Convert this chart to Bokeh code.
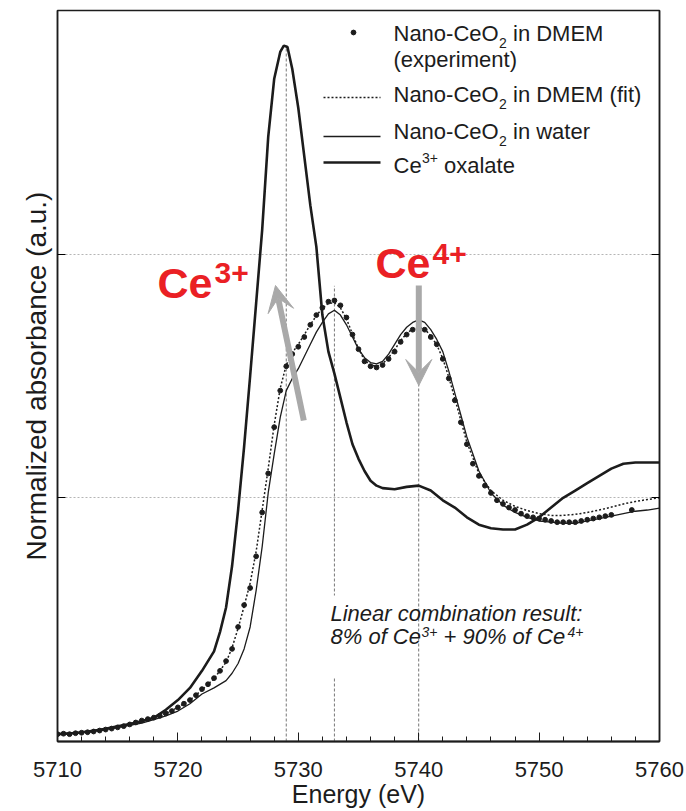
from bokeh.plotting import figure
from bokeh.models import (FixedTicker, LinearAxis, Label, Arrow, VeeHead,
                          BoxAnnotation, Range1d)
from bokeh.embed import file_html
from bokeh.resources import INLINE

# ---- data -----------------------------------------------------------------
# Ce(III) oxalate reference spectrum
ox_energy = [5710, 5711, 5712, 5713, 5714, 5715, 5716, 5717, 5718, 5719,
             5720, 5721, 5722, 5723, 5723.5, 5724, 5724.5, 5725, 5725.5, 5726,
             5726.5, 5727, 5727.5, 5728, 5728.5, 5728.8, 5729.1, 5729.5, 5730, 5730.5,
             5731, 5731.5, 5732, 5732.5, 5733, 5733.5, 5734, 5734.5, 5735, 5735.5,
             5736, 5736.5, 5737, 5738, 5739, 5740, 5741, 5742, 5743, 5744,
             5745, 5746, 5747, 5748, 5749, 5750, 5751, 5752, 5753, 5754,
             5755, 5756, 5757, 5758, 5759, 5760]
ox_abs = [0.030, 0.033, 0.038, 0.044, 0.052, 0.062, 0.072, 0.083, 0.097, 0.130,
          0.170, 0.220, 0.290, 0.370, 0.450, 0.550, 0.720, 0.950, 1.210, 1.500,
          1.800, 2.100, 2.480, 2.720, 2.830, 2.856, 2.850, 2.760, 2.600, 2.400,
          2.200, 2.030, 1.750, 1.600, 1.510, 1.410, 1.310, 1.220, 1.160, 1.110,
          1.070, 1.050, 1.040, 1.035, 1.045, 1.050, 1.030, 0.990, 0.960, 0.920,
          0.890, 0.875, 0.870, 0.870, 0.890, 0.920, 0.960, 1.000, 1.030, 1.060,
          1.090, 1.120, 1.140, 1.145, 1.145, 1.145]

# energy grid shared by the water spectrum and the linear-combination fit
line_energy = [5710, 5711, 5712, 5713, 5714, 5715, 5716, 5717, 5718, 5719,
               5720, 5721, 5722, 5723, 5724,
               5724.5, 5725, 5725.5, 5726, 5726.5, 5727, 5727.5, 5728, 5728.5, 5729,
               5729.5, 5730, 5730.5, 5731, 5731.5, 5732, 5732.5, 5733, 5733.5, 5734,
               5734.5, 5735, 5735.5, 5736, 5736.5, 5737, 5737.5, 5738, 5738.5, 5739,
               5739.5, 5740, 5740.5, 5741, 5741.5, 5742, 5742.5, 5743, 5743.5, 5744,
               5745, 5746, 5747, 5748, 5749, 5750, 5751, 5752, 5753, 5754,
               5755, 5756, 5757, 5758, 5759, 5760]
# nano-CeO2 in water
water_abs = [0.033, 0.035, 0.037, 0.042, 0.050, 0.058, 0.066, 0.075, 0.090, 0.105,
             0.125, 0.155, 0.195, 0.220, 0.250,
             0.280, 0.320, 0.380, 0.470, 0.620, 0.800, 1.020, 1.180, 1.330, 1.440,
             1.490, 1.530, 1.580, 1.630, 1.680, 1.720, 1.755, 1.770, 1.750, 1.710,
             1.660, 1.610, 1.575, 1.555, 1.550, 1.560, 1.590, 1.630, 1.670, 1.700,
             1.720, 1.730, 1.720, 1.690, 1.650, 1.600, 1.520, 1.430, 1.340, 1.250,
             1.110, 1.020, 0.970, 0.940, 0.920, 0.905, 0.900, 0.895, 0.895, 0.905,
             0.915, 0.925, 0.935, 0.945, 0.950, 0.958]
# nano-CeO2 in DMEM, linear-combination fit
fit_abs = [0.030, 0.032, 0.036, 0.041, 0.049, 0.058, 0.070, 0.085, 0.098, 0.115,
           0.140, 0.170, 0.212, 0.258, 0.325,
           0.385, 0.465, 0.555, 0.650, 0.780, 0.950, 1.120, 1.300, 1.450, 1.545,
           1.595, 1.630, 1.670, 1.710, 1.748, 1.778, 1.798, 1.800, 1.780, 1.735,
           1.672, 1.612, 1.565, 1.545, 1.540, 1.550, 1.575, 1.608, 1.645, 1.675,
           1.693, 1.700, 1.692, 1.665, 1.628, 1.572, 1.495, 1.408, 1.318, 1.228,
           1.100, 1.030, 0.990, 0.965, 0.948, 0.935, 0.928, 0.928, 0.932, 0.940,
           0.950, 0.962, 0.975, 0.985, 0.993, 1.000]

# nano-CeO2 in DMEM, measured points
exp_energy = [5710, 5710.5, 5711, 5711.5, 5712, 5712.5, 5713, 5713.5, 5714, 5714.5,
              5715, 5715.5, 5716, 5716.5, 5717, 5717.5, 5718, 5718.5, 5719, 5719.5,
              5720, 5720.5, 5721, 5721.5, 5722, 5722.5, 5723, 5723.5, 5724, 5724.5,
              5725, 5725.5, 5726, 5726.5, 5727, 5727.5, 5728, 5728.5, 5729, 5729.5,
              5730, 5730.5, 5731, 5731.5, 5732, 5732.5, 5733, 5733.5, 5734, 5734.5,
              5735, 5735.5, 5736, 5736.5, 5737, 5737.5, 5738, 5738.5, 5739, 5739.5,
              5740, 5740.5, 5741, 5741.5, 5742, 5742.5, 5743, 5743.5, 5744, 5744.5,
              5745, 5745.5, 5746, 5746.5, 5747, 5747.5, 5748, 5748.5, 5749, 5749.5,
              5750, 5750.5, 5751, 5751.5, 5752, 5752.5, 5753, 5753.5, 5754, 5754.5,
              5755, 5755.5, 5756, 5757.7]
exp_abs = [0.030, 0.032, 0.030, 0.034, 0.036, 0.038, 0.041, 0.045, 0.049, 0.053,
           0.058, 0.063, 0.070, 0.078, 0.086, 0.092, 0.098, 0.105, 0.115, 0.125,
           0.140, 0.155, 0.170, 0.190, 0.215, 0.235, 0.260, 0.290, 0.330, 0.380,
           0.470, 0.560, 0.630, 0.760, 0.940, 1.100, 1.290, 1.440, 1.540, 1.590,
           1.620, 1.660, 1.710, 1.750, 1.780, 1.805, 1.810, 1.790, 1.740, 1.670,
           1.610, 1.560, 1.540, 1.535, 1.545, 1.570, 1.600, 1.640, 1.670, 1.690,
           1.695, 1.690, 1.660, 1.630, 1.570, 1.490, 1.400, 1.310, 1.220, 1.140,
           1.090, 1.050, 1.020, 0.990, 0.975, 0.960, 0.950, 0.935, 0.925, 0.920,
           0.915, 0.910, 0.905, 0.900, 0.900, 0.900, 0.900, 0.905, 0.910, 0.915,
           0.920, 0.925, 0.930, 0.950]

# marker energies (Ce3+ white line, Ce4+ doublet) and the heights they reach
peak_energy = [5729, 5733, 5740]
peak_top = [2.856, 1.87, 1.73]

x_ticks = [5710, 5720, 5730, 5740, 5750, 5760]
x_minor = [5712, 5714, 5716, 5718, 5722, 5724, 5726, 5728, 5732, 5734, 5736, 5738,
           5742, 5744, 5746, 5748, 5752, 5754, 5756, 5758]
y_ticks = [1, 2]

# ---- styling / layout -----------------------------------------------------
INK = "#1c1c1c"
GREY = "#a9a9a9"
RED = "#ea2024"
FONT = "Liberation Sans"

X0, X1, Y0, Y1 = 5710, 5760, 0, 3
FL, FR, FT, FB = 57, 659, 10, 741   # plot frame edges in pixels


def at(px, py):
    """Pixel position on the page -> data coordinates."""
    x = X0 + (px - FL) * (X1 - X0) / (FR - FL)
    y = Y0 + (FB - py) * (Y1 - Y0) / (FB - FT)
    return x, y


p = figure(width=686, height=811, output_backend="svg", toolbar_location=None,
           x_range=Range1d(X0, X1), y_range=Range1d(Y0, Y1),
           min_border_left=FL, min_border_right=686 - FR,
           min_border_top=FT, min_border_bottom=811 - FB)
p.background_fill_color = "white"
p.border_fill_color = "white"
p.outline_line_color = INK
p.outline_line_width = 1.5

# x axis
xa = p.xaxis[0]
xa.ticker = FixedTicker(ticks=x_ticks, minor_ticks=x_minor)
xa.major_label_text_font = FONT
xa.major_label_text_font_size = "22px"
xa.major_label_text_color = INK
xa.major_label_standoff = 20
xa.major_tick_in = 9
xa.major_tick_out = 0
xa.minor_tick_in = 5
xa.minor_tick_out = 0
xa.major_tick_line_color = INK
xa.minor_tick_line_color = INK
xa.axis_line_color = INK
xa.axis_line_width = 2
xa.axis_label = "Energy (eV)"
xa.axis_label_text_font = FONT
xa.axis_label_text_font_size = "25px"
xa.axis_label_text_font_style = "normal"
xa.axis_label_text_color = INK
xa.axis_label_standoff = 0

# y axis: ticks only, no numbers
ya = p.yaxis[0]
ya.ticker = FixedTicker(ticks=y_ticks, minor_ticks=[])
ya.major_label_text_color = None
ya.major_label_text_font_size = "1px"
ya.major_label_standoff = 0
ya.major_tick_in = 8
ya.major_tick_out = 0
ya.minor_tick_line_color = None
ya.axis_line_color = INK
ya.axis_line_width = 1.5
ya.axis_label = "Normalized absorbance (a.u.)"
ya.axis_label_text_font = FONT
ya.axis_label_text_font_size = "28px"
ya.axis_label_text_font_style = "normal"
ya.axis_label_text_color = INK
ya.axis_label_standoff = 6

right = LinearAxis(ticker=FixedTicker(ticks=y_ticks, minor_ticks=[]),
                   major_label_text_color=None, major_label_text_font_size="1px",
                   major_tick_in=8, major_tick_out=0, minor_tick_line_color=None,
                   axis_line_color=INK, axis_line_width=1.5)
p.add_layout(right, "right")

p.xgrid.visible = False
p.ygrid.ticker = FixedTicker(ticks=y_ticks)
p.ygrid.grid_line_color = "#b5b5b5"
p.ygrid.grid_line_dash = "2 2"
p.ygrid.grid_line_width = 1

# ---- marks ----------------------------------------------------------------
p.segment(x0=peak_energy, y0=[0] * len(peak_energy), x1=peak_energy, y1=peak_top,
          line_color="#777777", line_width=1, line_dash="3 2")

p.line(ox_energy, ox_abs, line_color=INK, line_width=2.6)
p.line(line_energy, water_abs, line_color=INK, line_width=1.3)
p.line(line_energy, fit_abs, line_color=INK, line_width=1.5, line_dash="2 2")
p.scatter(exp_energy, exp_abs, size=4.8, color=INK)

# white gap behind the fit annotation
gx0, gy0 = at(329, 677)
gx1, gy1 = at(337, 595)
p.add_layout(BoxAnnotation(left=gx0, right=gx1, bottom=gy0, top=gy1,
                           fill_color="white", fill_alpha=1, line_color=None))

# ---- legend (drawn by hand so sub/superscripts can be shown) --------------
lx, ly = at(353, 32)
p.scatter([lx], [ly], size=4.8, color=INK)
for py, width, dash in [(97, 1.5, "2 2"), (136, 1.3, "solid"), (162, 2.6, "solid")]:
    xa0, yy = at(323, py)
    xa1, _ = at(380, py)
    p.line([xa0, xa1], [yy, yy], line_color=INK, line_width=width, line_dash=dash)


def put(text, px, py, size, style="normal", color=INK):
    """Text whose baseline sits at page row py."""
    x, y = at(px, py - 0.42 * size)
    p.add_layout(Label(x=x, y=y, text=text, text_font=FONT,
                       text_font_size=f"{size}px", text_font_style=style,
                       text_color=color, text_baseline="alphabetic"))


LEG = 22
SUB = 14
for base, tail in [(42, "in DMEM"), (103, "in DMEM (fit)"), (140, "in water")]:
    put("Nano-CeO", 393, base, LEG)
    put("2", 498.5, base + 6, SUB)
    put(tail, 512.5, base, LEG)
put("(experiment)", 393, 68, LEG)
put("Ce", 393, 174, LEG)
put("3+", 421.5, 163, SUB)
put("oxalate", 443.5, 174, LEG)

# ---- oxidation-state annotations ------------------------------------------
put("Ce", 157, 301, 43, "bold", RED)
put("3+", 214, 285, 30, "bold", RED)
put("Ce", 375, 281, 43, "bold", RED)
put("4+", 432, 266, 30, "bold", RED)

for (sx, sy), (ex, ey) in [((303.3, 420), (275, 285)), ((418.3, 285), (418.3, 385))]:
    xs, ys = at(sx, sy)
    xe, ye = at(ex, ey)
    p.add_layout(Arrow(end=VeeHead(size=26, fill_color=GREY, line_color=GREY),
                       x_start=xs, y_start=ys, x_end=xe, y_end=ye,
                       line_color=GREY, line_width=6))

# ---- linear-combination result --------------------------------------------
put("Linear combination result:", 330, 622, 22, "italic")
put("8% of Ce", 330, 645, 22, "italic")
put("3+", 421, 637, SUB, "italic")
put("+ 90% of Ce", 443, 645, 22, "italic")
put("4+", 567, 637, SUB, "italic")

open("out.html", "w").write(file_html(p, INLINE))
